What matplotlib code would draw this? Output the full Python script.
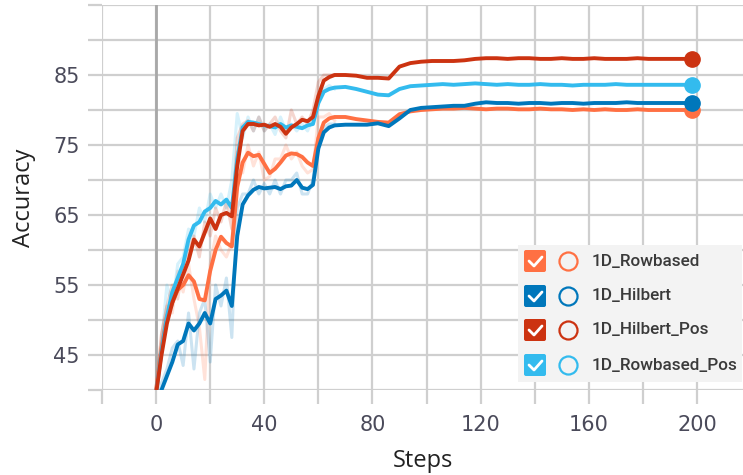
import matplotlib
matplotlib.use("Agg")
import matplotlib.pyplot as plt
from matplotlib.patches import FancyBboxPatch, Rectangle

# steps (every 2 up to 66, every 4 afterwards)
steps = list(range(0, 68, 2)) + list(range(70, 199, 4))

rowbased = [40, 46, 50.5, 52.5, 54.3, 55, 56.4, 55.5, 53, 52.8,
            57, 60, 61.9, 61, 60.5, 69, 72.5, 73.9, 73.4, 73.6,
            72.3, 71, 71.6, 72.5, 73.5, 73.8, 73.7, 73.3, 72.5, 72,
            76, 78.2, 78.8, 79,
            79, 78.7, 78.5, 78.3, 78.2, 79.4, 79.8, 80, 80.1, 80.2,
            80.2, 80.3, 80.2, 80.1, 80.2, 80.2, 80.1, 80.1, 80.2, 80.1,
            80.1, 80.0, 80.1, 80.0, 80.1, 80.0, 80.0, 80.1, 80.0, 80.0,
            80.0, 80.0, 80.0]
hilbert = [37, 40, 42, 44, 46.5, 47, 49.5, 48.5, 49.5, 51,
           49.5, 53, 53.5, 54.2, 52, 62, 66.5, 67.8, 68.6, 69,
           68.8, 68.9, 69, 68.7, 69.1, 69.2, 70, 68.9, 68.7, 69.3,
           74.5, 76.8, 77.5, 77.8,
           77.9, 77.9, 77.9, 78.1, 77.7, 78.8, 80, 80.3, 80.4, 80.5,
           80.6, 80.6, 80.9, 81.1, 81.0, 81.0, 80.9, 81.0, 81.0, 80.9,
           81.0, 81.0, 80.9, 81.0, 81.0, 81.0, 81.1, 81.0, 81.0, 81.0,
           81.0, 81.0, 81.0]
hilbert_pos = [39.5, 45, 49.5, 52.5, 54.5, 56.5, 58.5, 61.5, 60.5, 62.5,
               64.5, 63, 65, 65.3, 64.8, 72, 77, 78, 78, 77.8,
               77.9, 77.6, 78, 77.6, 76.6, 77.5, 78, 78.6, 78.4, 79,
               82, 84.2, 84.7, 85,
               85, 84.9, 84.6, 84.6, 84.5, 86.2, 86.7, 86.9, 87, 87,
               87, 87.1, 87.3, 87.4, 87.4, 87.3, 87.4, 87.4, 87.3, 87.3,
               87.4, 87.3, 87.3, 87.4, 87.3, 87.3, 87.3, 87.4, 87.3, 87.3,
               87.3, 87.3, 87.3]
rowbased_pos = [39.5, 45.5, 50.5, 54, 56, 58, 61.5, 63.5, 64, 65.5,
                66, 67, 66.5, 67.2, 66, 73, 77.5, 78.3, 78.2, 78,
                77.8, 77.7, 77.5, 78, 77.5, 77.8, 77.6, 77.4, 77.8, 78,
                81, 82.6, 83, 83.2,
                83.3, 83, 82.6, 82.2, 82.1, 83, 83.4, 83.5, 83.6, 83.7,
                83.6, 83.7, 83.8, 83.7, 83.6, 83.7, 83.6, 83.6, 83.7, 83.6,
                83.6, 83.5, 83.6, 83.6, 83.6, 83.7, 83.6, 83.6, 83.6, 83.6,
                83.6, 83.6, 83.6]

# raw (unsmoothed) values for the noisy early part, steps 0..66
raw_steps = list(range(0, 68, 2))
rowbased_raw = [40, 48, 52, 51, 57, 54, 58, 53, 49, 41.5,
                58, 62, 60, 59, 61, 74, 71, 75, 72, 74,
                70, 70.5, 73, 73, 75, 73, 74, 72, 71, 71.5,
                79, 79, 79.5, 78.5]
hilbert_raw = [37, 41, 43, 46, 47, 43.5, 51, 43, 51, 53,
               44, 55, 52, 56, 47.5, 66, 68, 68, 70, 68,
               69.5, 68, 70, 68, 70, 70, 71, 68, 68, 70,
               76, 77.5, 78, 78]
hilbert_pos_raw = [39.5, 48, 52, 55, 53, 58, 60, 62, 59, 64,
                   62, 66, 64, 67, 63, 76, 78, 78.5, 77, 79,
                   77, 78, 79, 77, 76, 80, 78, 79, 78, 80,
                   84, 85, 85, 85]
rowbased_pos_raw = [39.5, 47, 55, 52, 58, 59, 63, 62, 66, 64,
                    68, 66, 68, 66, 70, 79.5, 76, 79, 77, 79,
                    77, 78, 76.5, 79, 77, 78, 77, 78, 77, 79,
                    82, 83, 83.5, 83]

labels = ["1D_Rowbased", "1D_Hilbert", "1D_Hilbert_Pos", "1D_Rowbased_Pos"]
colors = ["#FF7043", "#0077BB", "#CC3311", "#33BBEE"]
series = [rowbased, hilbert, hilbert_pos, rowbased_pos]
raws = [rowbased_raw, hilbert_raw, hilbert_pos_raw, rowbased_pos_raw]

grid_c = "#cfcfcf"
tick_c = "#4a4a5a"

fig = plt.figure(figsize=(7.43, 4.75), dpi=100)
ax = fig.add_axes([102/743, 85/475, 641/743, 385/475])

ax.set_xlim(-20, 217)
ax.set_ylim(40, 95)
for s in ax.spines.values():
    s.set_visible(False)

xt = list(range(-20, 220, 20))
yt = list(range(40, 100, 5))
ax.set_xticks(xt)
ax.set_xticklabels([str(v) if v >= 0 and v % 40 == 0 else "" for v in xt])
ax.set_yticks(yt)
ax.set_yticklabels([str(v) if v % 10 == 5 and v < 90 else "" for v in yt])
ax.tick_params(length=10, width=1.6, color=grid_c, labelcolor=tick_c,
               labelsize=15)
ax.tick_params(axis="x", pad=8)
ax.tick_params(axis="y", pad=6)
ax.grid(True, color=grid_c, linewidth=1.6)
ax.set_axisbelow(True)
ax.axvline(0, color="#a8a8a8", linewidth=2, zorder=1)

order = [0, 1, 3, 2]
for i in order:
    ax.plot(raw_steps, raws[i], color=colors[i], alpha=0.2, linewidth=2.2,
            zorder=2)
for i in order:
    ax.plot(steps, series[i], color=colors[i], linewidth=2.8, zorder=3)
    ax.plot(steps[-1], series[i][-1], "o", color=colors[i], markersize=11,
            zorder=4)

ax.set_xlabel("Steps", fontsize=17, color="#222222", family="Open Sans",
              labelpad=10)
ax.set_ylabel("Accuracy", fontsize=17, color="#222222", family="Open Sans",
              labelpad=12)

# legend panel drawn like the web widget
lax = fig.add_axes([518/743, (475-382)/475, 224/743, 137/475])
lax.set_xlim(0, 224)
lax.set_ylim(137, 0)
lax.axis("off")
lax.add_patch(Rectangle((0, 0), 224, 137, facecolor="#f3f3f3",
                        edgecolor="none"))
row_y = [16, 51, 85, 120]
for i, lab in enumerate(labels):
    y = row_y[i]
    lax.add_patch(FancyBboxPatch((6, y - 11), 22, 22,
                                 boxstyle="round,pad=0,rounding_size=2",
                                 facecolor=colors[i], edgecolor="none"))
    lax.plot([11, 16, 24], [y, y + 5, y - 4], color="white", linewidth=2,
             solid_capstyle="round", solid_joinstyle="round")
    lax.plot(50, y, "o", markersize=13, markerfacecolor="none",
             markeredgecolor=colors[i], markeredgewidth=1.6)
    lax.text(74, y, lab, fontsize=12.3, color="#3a3a3a", va="center",
             ha="left", family="Roboto", fontweight="medium")

fig.savefig("out.png", dpi=100)
